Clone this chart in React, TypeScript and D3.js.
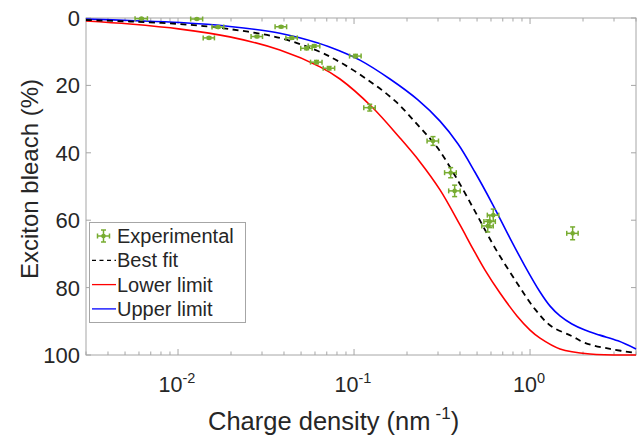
import React from "react";
import * as d3 from "d3";

// Experimental points
const expX = [0.0062, 0.0128, 0.0150, 0.0169, 0.0281, 0.0385, 0.0443, 0.0538, 0.0594, 0.0612, 0.0722, 0.102, 0.1228, 0.281, 0.354, 0.373, 0.575, 0.591, 0.618, 1.746];
const expY = [0.2, 0.3, 5.9, 2.7, 5.5, 2.6, 5.9, 9.0, 8.3, 13.1, 14.9, 11.3, 26.6, 36.5, 45.9, 51.3, 61.7, 60.4, 58.5, 63.9];
const expXErr = [0.0005, 0.001, 0.0011, 0.0013, 0.0021, 0.0029, 0.0033, 0.004, 0.0045, 0.0046, 0.0054, 0.0077, 0.0092, 0.021, 0.027, 0.028, 0.043, 0.044, 0.046, 0.13];
const expYErr = [0.2, 0.2, 0.3, 0.3, 0.3, 0.3, 0.4, 0.4, 0.4, 0.5, 0.5, 0.5, 1.0, 1.3, 1.5, 1.7, 1.8, 1.8, 1.8, 1.9];

// Best fit curve
const fitX = [0.003, 0.00533, 0.0103, 0.0197, 0.0379, 0.0624, 0.0832, 0.12, 0.171, 0.2307, 0.296, 0.379, 0.493, 0.632, 0.843, 1.067, 1.315, 1.73, 2.05, 2.85, 4];
const fitY = [0.6, 1.04, 1.8, 3.3, 5.9, 9.8, 13.1, 18.4, 24.6, 31.8, 38.3, 47.2, 57.9, 68.2, 78.6, 86.4, 91.4, 94.4, 96.4, 98.2, 99.4];

// Lower limit curve
const lowX = [0.003, 0.00533, 0.0103, 0.0197, 0.0379, 0.0641, 0.0832, 0.1265, 0.1824, 0.237, 0.308, 0.40, 0.474, 0.555, 0.675, 0.843, 1.0, 1.14, 1.48, 2.19, 4];
const lowY = [0.9, 1.8, 3.3, 5.6, 9.5, 14.5, 18.1, 26.4, 35.6, 42.7, 51.0, 61.4, 68.5, 74.8, 81.6, 88.4, 92.6, 95.0, 98.2, 99.7, 100];

// Upper limit curve
const upX = [0.003, 0.00533, 0.0103, 0.0197, 0.0379, 0.0624, 0.0832, 0.108, 0.16, 0.2307, 0.308, 0.39, 0.486, 0.616, 0.769, 0.935, 1.14, 1.30, 1.48, 1.73, 2.05, 2.49, 3.16, 4];
const upY = [0.3, 0.74, 1.34, 2.5, 4.5, 7.4, 9.8, 12.5, 18.1, 24.3, 30.6, 37.4, 45.7, 55.5, 65.3, 73.6, 81.3, 85.5, 88.4, 90.8, 92.6, 94.1, 95.8, 98.2];

const yTicks = [0, 20, 40, 60, 80, 100];
const xMajor = [0.01, 0.1, 1];
const xMajorExp = ["-2", "-1", "0"];

const FONT = "'Liberation Sans', Arial, Helvetica, sans-serif";
const GREEN = "#77ac30";
const AXIS = "#a6a6a6";
const TEXT = "#262626";

export default function App() {
  const L = 86, R = 636, T = 18, B = 355;
  const xs = d3.scaleLog().domain([0.003, 4]).range([L, R]);
  const ys = d3.scaleLinear().domain([0, 100]).range([T, B]);

  const line = d3
    .line<[number, number]>()
    .x((d) => xs(d[0]))
    .y((d) => ys(d[1]))
    .curve(d3.curveCatmullRom.alpha(0.5));

  const zip = (a: number[], b: number[]) => a.map((v, i) => [v, b[i]] as [number, number]);

  // minor ticks
  const minor: number[] = [];
  for (let e = -3; e <= 0; e++) {
    for (let m = 2; m <= 9; m++) {
      const v = m * Math.pow(10, e);
      if (v >= 0.003 && v <= 4) minor.push(v);
    }
  }

  const legendItems = [
    { label: "Experimental", kind: "exp" },
    { label: "Best fit", kind: "fit" },
    { label: "Lower limit", kind: "low" },
    { label: "Upper limit", kind: "up" },
  ];

  return (
    <div style={{ position: "fixed", left: 0, top: 0 }}>
      <svg width={638} height={437} style={{ display: "block", background: "#fff" }} fontFamily={FONT}>
        <rect x={0} y={0} width={638} height={437} fill="#fff" />
        {/* axes box */}
        <rect x={L} y={T} width={R - L} height={B - T} fill="none" stroke={AXIS} strokeWidth={1} />
        {/* x ticks */}
        {minor.map((v, i) => (
          <g key={"mn" + i} stroke={AXIS}>
            <line x1={xs(v)} x2={xs(v)} y1={B} y2={B - 3.5} />
            <line x1={xs(v)} x2={xs(v)} y1={T} y2={T + 3.5} />
          </g>
        ))}
        {xMajor.map((v, i) => (
          <g key={"mj" + i}>
            <line x1={xs(v)} x2={xs(v)} y1={B} y2={B - 6} stroke={AXIS} />
            <line x1={xs(v)} x2={xs(v)} y1={T} y2={T + 6} stroke={AXIS} />
            <text x={xs(v) - 1} y={392} textAnchor="middle" fill={TEXT} fontSize={21.5}>
              10
              <tspan fontSize={14.5} dy={-9}>
                {xMajorExp[i]}
              </tspan>
            </text>
          </g>
        ))}
        {/* y ticks */}
        {yTicks.map((v) => (
          <g key={"y" + v}>
            <line x1={L} x2={L + 5} y1={ys(v)} y2={ys(v)} stroke={AXIS} />
            <line x1={R} x2={R - 5} y1={ys(v)} y2={ys(v)} stroke={AXIS} />
            <text x={80} y={ys(v) + 8} textAnchor="end" fill={TEXT} fontSize={22}>
              {v}
            </text>
          </g>
        ))}

        {/* curves */}
        <path d={line(zip(lowX, lowY)) || ""} fill="none" stroke="#ff0000" strokeWidth={1.6} />
        <path d={line(zip(upX, upY)) || ""} fill="none" stroke="#0000ff" strokeWidth={1.6} />
        <path d={line(zip(fitX, fitY)) || ""} fill="none" stroke="#000" strokeWidth={1.8} strokeDasharray="6,4.5" />

        {/* experimental points with error bars */}
        {expX.map((x, i) => {
          const cx = xs(x), cy = ys(expY[i]);
          const x0 = xs(x - expXErr[i]), x1 = xs(x + expXErr[i]);
          const y0 = ys(expY[i] - expYErr[i]), y1 = ys(expY[i] + expYErr[i]);
          return (
            <g key={"e" + i} stroke={GREEN} strokeWidth={1.5}>
              <line x1={x0} x2={x1} y1={cy} y2={cy} />
              <line x1={x0} x2={x0} y1={cy - 2.5} y2={cy + 2.5} />
              <line x1={x1} x2={x1} y1={cy - 2.5} y2={cy + 2.5} />
              <line x1={cx} x2={cx} y1={y0} y2={y1} />
              <line x1={cx - 2.5} x2={cx + 2.5} y1={y0} y2={y0} />
              <line x1={cx - 2.5} x2={cx + 2.5} y1={y1} y2={y1} />
              <circle cx={cx} cy={cy} r={2.3} fill={GREEN} stroke="none" />
            </g>
          );
        })}

        {/* legend */}
        <rect x={89.5} y={222.5} width={156} height={100} fill="#fff" stroke={AXIS} />
        {legendItems.map((it, i) => {
          const cy = 236 + i * 24.3;
          return (
            <g key={it.kind}>
              {it.kind === "exp" && (
                <g stroke={GREEN} strokeWidth={1.5}>
                  <line x1={97.5} x2={109.5} y1={cy} y2={cy} />
                  <line x1={97.5} x2={97.5} y1={cy - 2.5} y2={cy + 2.5} />
                  <line x1={109.5} x2={109.5} y1={cy - 2.5} y2={cy + 2.5} />
                  <line x1={103.5} x2={103.5} y1={cy - 6} y2={cy + 6} />
                  <line x1={101} x2={106} y1={cy - 6} y2={cy - 6} />
                  <line x1={101} x2={106} y1={cy + 6} y2={cy + 6} />
                  <circle cx={103.5} cy={cy} r={2.3} fill={GREEN} stroke="none" />
                </g>
              )}
              {it.kind === "fit" && (
                <line x1={92} x2={116} y1={cy} y2={cy} stroke="#000" strokeWidth={1.2} strokeDasharray="4,3.5" />
              )}
              {it.kind === "low" && <line x1={92} x2={116} y1={cy} y2={cy} stroke="#ff0000" strokeWidth={1.3} />}
              {it.kind === "up" && <line x1={92} x2={116} y1={cy} y2={cy} stroke="#0000ff" strokeWidth={1.3} />}
              <text x={117} y={cy + 7} fill={TEXT} fontSize={20}>
                {it.label}
              </text>
            </g>
          );
        })}

        {/* axis titles */}
        <text x={208} y={430} fill={TEXT} fontSize={25.5}>
          Charge density (nm
          <tspan fontSize={17} dy={-11} dx={5}>
            -1
          </tspan>
          <tspan dy={11}>)</tspan>
        </text>
        <text
          transform={`translate(38,179) rotate(-90)`}
          textAnchor="middle"
          fill={TEXT}
          fontSize={24}
        >
          Exciton bleach (%)
        </text>
      </svg>
    </div>
  );
}
